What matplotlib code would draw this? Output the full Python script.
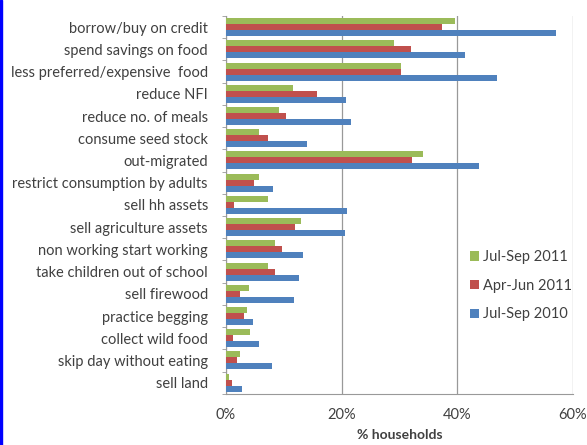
import numpy as np
import matplotlib.pyplot as plt
from matplotlib.patches import Rectangle

categories = ["borrow/buy on credit", "spend savings on food",
              "less preferred/expensive  food", "reduce NFI",
              "reduce no. of meals", "consume seed stock", "out-migrated",
              "restrict consumption by adults", "sell hh assets",
              "sell agriculture assets", "non working start working",
              "take children out of school", "sell firewood",
              "practice begging", "collect wild food",
              "skip day without eating", "sell land"]
jul_sep_2011 = [39.6, 29.0, 30.2, 11.6, 9.1, 5.7, 34.0, 5.7, 7.2,
                12.9, 8.5, 7.2, 3.9, 3.7, 4.2, 2.4, 0.6]
apr_jun_2011 = [37.4, 32.0, 30.3, 15.8, 10.3, 7.2, 32.1, 4.8, 1.3,
                11.9, 9.6, 8.4, 2.4, 3.1, 1.2, 1.9, 1.1]
jul_sep_2010 = [57.0, 41.4, 46.8, 20.8, 21.7, 14.0, 43.8, 8.2, 21.0,
                20.5, 13.3, 12.6, 11.8, 4.6, 5.7, 7.9, 2.7]
series_names = ["Jul-Sep 2011", "Apr-Jun 2011", "Jul-Sep 2010"]
colors = ["#9BBB59", "#C0504D", "#4F81BD"]
xticks = [0, 20, 40, 60]

plt.rcParams['font.family'] = ['Lato', 'DejaVu Sans']
txt = "#404040"
fs = 10.5

fig = plt.figure(figsize=(5.87, 4.45), dpi=100)
ax = fig.add_axes([0.385, 0.115, 0.591, 0.849])

n = len(categories)
y = np.arange(n)
h = 0.27
for i, vals in enumerate([jul_sep_2011, apr_jun_2011, jul_sep_2010]):
    ax.barh(y + (i - 1) * h, vals, height=h, color=colors[i],
            label=series_names[i], zorder=3)

ax.set_ylim(n - 0.5, -0.5)
ax.set_xlim(0, 60)
ax.set_yticks(y)
ax.set_yticklabels(categories, color=txt, fontsize=fs)
ax.set_yticks(np.arange(n + 1) - 0.5, minor=True)
ax.tick_params(axis='y', which='major', length=0, pad=13)
ax.tick_params(axis='y', which='minor', length=3, color="#999999")
ax.set_xticks(xticks)
ax.set_xticklabels([f"{v}%" for v in xticks], color=txt, fontsize=fs)
ax.tick_params(axis='x', length=0, pad=10)
ax.xaxis.grid(True, color="#999999", linewidth=0.9, zorder=0)
for s in ['top', 'right']:
    ax.spines[s].set_visible(False)
for s in ['left', 'bottom']:
    ax.spines[s].set_color("#999999")
ax.set_xlabel("% households", color=txt, fontsize=10, fontweight='bold',
              labelpad=5)

leg = ax.legend(loc='upper left', bbox_to_anchor=(0.665, 0.415), frameon=False,
                fontsize=fs, handlelength=0.6, handleheight=0.6,
                handletextpad=0.3, labelspacing=1.0)
for t in leg.get_texts():
    t.set_color(txt)

fig.add_artist(Rectangle((0, 0), 0.003, 1, transform=fig.transFigure,
                         color="blue", zorder=10))

fig.savefig("out.png", dpi=100)
